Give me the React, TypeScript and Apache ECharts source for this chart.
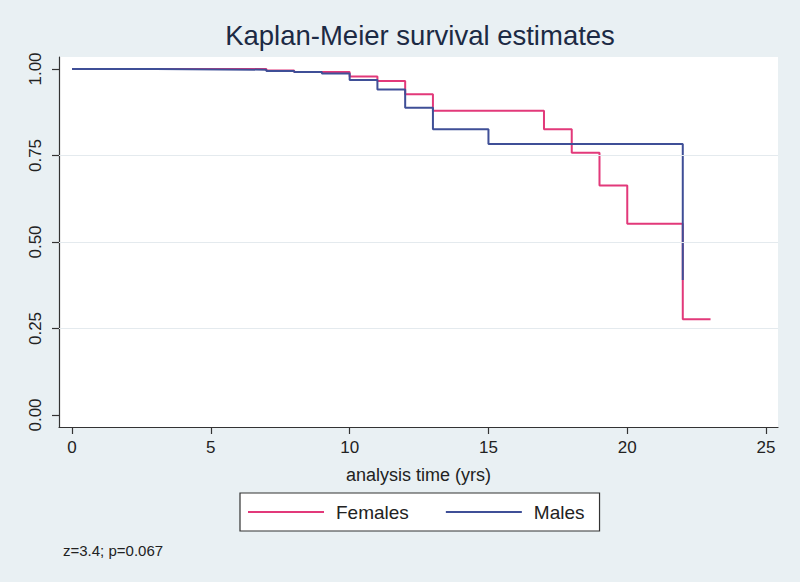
import React, { useEffect, useRef } from "react";
import * as echarts from "echarts";

const titleText = "Kaplan-Meier survival estimates";
const xAxisName = "analysis time (yrs)";
const footnote = "z=3.4; p=0.067";
const xTicks = [0, 5, 10, 15, 20, 25];
const yTicks = [0, 0.25, 0.5, 0.75, 1];
const gridLines = [0.25, 0.5, 0.75];

const femaleTimes = [0, 7, 8, 10, 11, 12, 13, 17, 18, 19, 20, 22, 23];
const femaleSurv = [1, 0.996, 0.991, 0.978, 0.965, 0.927, 0.879, 0.826, 0.758, 0.663, 0.553, 0.277, 0.277];
const maleTimes = [0, 3, 7, 8, 9, 10, 11, 12, 13, 15, 22];
const maleSurv = [1, 0.998, 0.994, 0.991, 0.987, 0.968, 0.941, 0.888, 0.826, 0.783, 0.39];

const FONT = "'Liberation Sans', Arial, Helvetica, sans-serif";
const PINK = "#e2397a";
const BLUE = "#3f4f97";

export default function App() {
  const ref = useRef<HTMLDivElement>(null);
  useEffect(() => {
    if (!ref.current) return;
    const chart = echarts.init(ref.current, null, { renderer: "svg" });
    const fem = femaleTimes.map((t, i) => [t, femaleSurv[i]]);
    const mal = maleTimes.map((t, i) => [t, maleSurv[i]]);
    chart.setOption({
      animation: false,
      backgroundColor: "#e9f0f3",
      textStyle: { fontFamily: FONT },
      grid: {
        left: 59,
        right: 22,
        top: 57,
        bottom: 155,
        show: true,
        backgroundColor: "#ffffff",
        borderWidth: 0,
      },
      xAxis: {
        type: "value",
        min: -0.47,
        max: 25.43,
        name: xAxisName,
        nameLocation: "middle",
        nameGap: 39,
        nameTextStyle: { fontSize: 18, color: "#222", fontFamily: FONT },
        axisLine: { show: true, onZero: false, lineStyle: { color: "#333", width: 1.2 } },
        axisTick: { show: true, customValues: xTicks, length: 7, lineStyle: { color: "#333", width: 1.2 } },
        axisLabel: { customValues: xTicks, fontSize: 17, color: "#222", margin: 12, fontFamily: FONT },
        splitLine: { show: false },
      },
      yAxis: {
        type: "value",
        min: -0.0347,
        max: 1.0347,
        axisLine: { show: true, onZero: false, lineStyle: { color: "#333", width: 1.2 } },
        axisTick: { show: true, customValues: yTicks, length: 7, lineStyle: { color: "#333", width: 1.2 } },
        axisLabel: {
          customValues: yTicks,
          fontSize: 17,
          color: "#222",
          rotate: 90,
          margin: 15,
          fontFamily: FONT,
          formatter: (v: number) => v.toFixed(2),
        },
        splitLine: { show: false },
      },
      legend: {
        left: 240,
        top: 493,
        orient: "horizontal",
        backgroundColor: "#ffffff",
        borderColor: "#333",
        borderWidth: 1.2,
        borderRadius: 0,
        padding: [9, 15, 9, 8],
        icon: "rect",
        itemWidth: 76,
        itemHeight: 2,
        itemGap: 37,
        textStyle: { fontSize: 19, lineHeight: 20, color: "#222", fontFamily: FONT, padding: [0, 0, 0, 7] },
        data: ["Females", "Males"],
      },
      graphic: [
        {
          type: "text",
          x: 420,
          y: 35,
          style: {
            text: titleText,
            fontSize: 27.5,
            fontFamily: FONT,
            fill: "#1c2a44",
            textAlign: "center",
            textVerticalAlign: "middle",
          },
        },
        {
          type: "text",
          x: 63,
          y: 550,
          style: {
            text: footnote,
            fontSize: 15,
            fontFamily: FONT,
            fill: "#222",
            textAlign: "left",
            textVerticalAlign: "middle",
          },
        },
      ],
      series: [
        {
          name: "grid",
          type: "line",
          data: [],
          silent: true,
          markLine: {
            silent: true,
            symbol: "none",
            label: { show: false },
            lineStyle: { color: "#e4eaee", width: 1, type: "solid" },
            data: gridLines.map((v) => ({ yAxis: v })),
          },
        },
        {
          name: "Females",
          type: "line",
          step: "end",
          data: fem,
          symbol: "none",
          lineStyle: { color: PINK, width: 2 },
          itemStyle: { color: PINK },
        },
        {
          name: "Males",
          type: "line",
          step: "end",
          data: mal,
          symbol: "none",
          lineStyle: { color: BLUE, width: 2 },
          itemStyle: { color: BLUE },
        },
      ],
    });
    return () => chart.dispose();
  }, []);
  return (
    <div
      ref={ref}
      style={{ position: "fixed", left: 0, top: 0, width: 800, height: 582 }}
    />
  );
}
